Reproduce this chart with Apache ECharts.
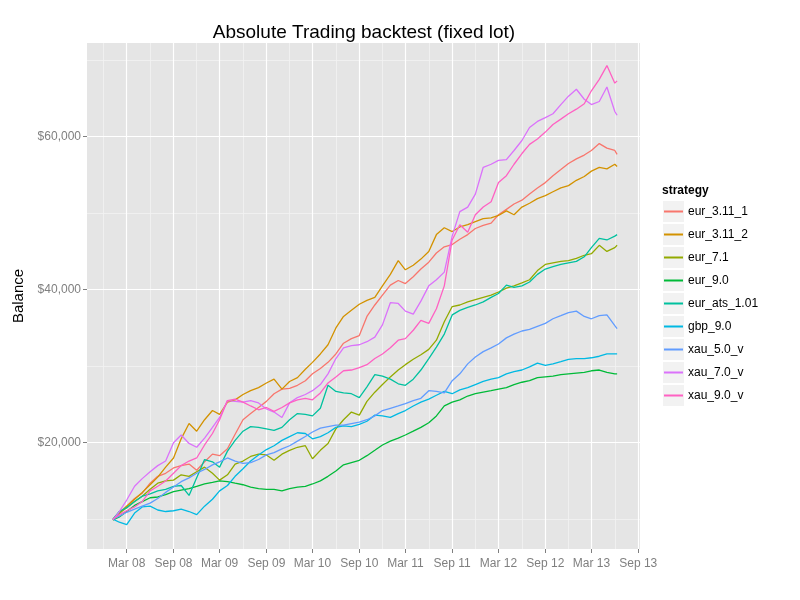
<!DOCTYPE html>
<html>
<head>
<meta charset="utf-8">
<title>Absolute Trading backtest (fixed lot)</title>
<script src="https://cdn.jsdelivr.net/npm/echarts@6/dist/echarts.min.js"></script>
<style>
  html, body { margin: 0; padding: 0; background: #fff; }
  #main { width: 800px; height: 600px; }
</style>
</head>
<body>
<div id="main"></div>
<script>
// monthly samples (first = start of backtest, last = end)
var dates = [
  '2008-01-07','2008-02-01','2008-03-01','2008-04-01','2008-05-01','2008-06-01','2008-07-01','2008-08-01','2008-09-01','2008-10-01','2008-11-01','2008-12-01',
  '2009-01-01','2009-02-01','2009-03-01','2009-04-01','2009-05-01','2009-06-01','2009-07-01','2009-08-01','2009-09-01','2009-10-01','2009-11-01','2009-12-01',
  '2010-01-01','2010-02-01','2010-03-01','2010-04-01','2010-05-01','2010-06-01','2010-07-01','2010-08-01','2010-09-01','2010-10-01','2010-11-01','2010-12-01',
  '2011-01-01','2011-02-01','2011-03-01','2011-04-01','2011-05-01','2011-06-01','2011-07-01','2011-08-01','2011-09-01','2011-10-01','2011-11-01','2011-12-01',
  '2012-01-01','2012-02-01','2012-03-01','2012-04-01','2012-05-01','2012-06-01','2012-07-01','2012-08-01','2012-09-01','2012-10-01','2012-11-01','2012-12-01',
  '2013-01-01','2013-02-01','2013-03-01','2013-04-01','2013-05-01','2013-06-01',
  '2013-06-10'
];

var eur_3_11_1 = [
  10000,10900,11700,12700,13400,14700,15600,16000,16700,17000,17200,16400,
  17500,18500,18300,19200,21100,23000,23800,24600,25400,26400,27000,27100,
  27500,28100,29000,29700,30500,31600,33000,33600,34000,36500,38000,39300,
  40600,41200,40800,41700,42700,43600,44800,45600,45900,46600,47200,48000,
  48400,48700,49800,50500,51200,51700,52500,53300,54000,54900,55700,56500,
  57100,57600,58200,59100,58500,58200,
  57700
];
var eur_3_11_2 = [
  9900,10700,11700,12600,13500,14500,15500,16800,18000,20500,22500,21500,
  23000,24200,23700,25300,25600,26300,26800,27200,27800,28300,27000,28000,
  28500,29600,30500,31600,32800,35000,36500,37300,38100,38600,39000,40500,
  42000,43800,42600,43200,44000,45000,47200,48100,47600,48200,48500,48900,
  49300,49400,49700,50300,49800,50800,51300,51900,52300,52800,53300,53600,
  54300,54800,55500,56000,55800,56400,
  56100
];
var eur_7_1 = [
  9900,10800,11500,12300,13000,13900,14700,15000,15100,15800,15600,16200,
  16800,16000,15100,15800,17200,17600,18200,18500,18400,17700,18500,19000,
  19400,19600,17900,19000,19900,21800,23000,24000,23600,25400,26600,27600,
  28600,29500,30200,30900,31500,32200,33400,35800,37800,38000,38400,38700,
  39000,39300,39700,40200,40500,40900,41300,42500,43300,43500,43700,43800,
  44100,44500,44700,45800,45000,45500,
  45800
];
var eur_9_0 = [
  9900,10300,11000,11800,12300,12800,12900,13200,13600,13800,14000,14300,
  14600,14800,15000,14900,14700,14500,14200,14000,13900,13900,13700,14000,
  14200,14300,14600,15000,15600,16300,17100,17400,17700,18300,19000,19700,
  20200,20600,21000,21500,22000,22600,23500,24800,25300,25600,26100,26400,
  26600,26800,27000,27200,27600,27900,28100,28500,28600,28700,28900,29000,
  29100,29200,29400,29500,29200,29000,
  29000
];
var eur_ats_1_01 = [
  10000,11000,11500,12300,13000,13300,13700,13900,14300,14400,13100,15400,
  17800,17500,16800,18900,20300,21500,22100,22000,21800,21600,22000,23000,
  23800,23700,23500,24500,27500,26700,26500,26400,25900,27300,28900,28700,
  28300,27700,27500,28300,29500,31000,32500,34200,36700,37300,37700,38000,
  38400,39000,39500,40600,40300,40500,41000,42000,42700,43000,43300,43500,
  43700,44300,45500,46700,46500,47000,
  47200
];
var gbp_9_0 = [
  10000,9600,9300,10800,11600,11700,11200,11000,11100,11300,11000,10600,
  11700,12600,13700,14400,15600,16600,17600,18400,19100,19600,20300,20800,
  21300,21200,20500,20800,21300,22000,22200,22100,22400,22800,23600,23500,
  23300,23800,24200,24800,25300,25700,26200,26700,26400,26900,27200,27600,
  28000,28300,28500,29000,29300,29500,29900,30400,30100,30300,30600,30900,
  31000,31000,31100,31300,31600,31600,
  31600
];
var xau_5_0_v = [
  10000,10400,10900,11300,11700,12100,12700,13500,14200,14900,15400,16000,
  16500,17100,17500,18000,17600,17300,17400,17800,18400,18700,19200,19600,
  20200,20800,21400,21900,22100,22300,22300,22500,22700,23000,23500,24200,
  24500,24800,25100,25500,25800,26800,26700,26500,28100,29000,30300,31200,
  31900,32400,32900,33700,34200,34600,34800,35200,35600,36200,36600,37000,
  37200,36500,36200,36600,36700,35300,
  34900
];
var xau_7_0_v = [
  9900,11000,12500,14300,15300,16200,17000,17600,20000,21000,19900,19400,
  20600,22000,23300,25500,25400,25300,25500,25200,24400,24000,23300,25200,
  25900,26300,26800,27600,29000,31000,32400,32700,32800,33200,33800,35400,
  38300,38200,37200,36800,38500,40500,41300,42300,47000,50200,50800,52500,
  56000,56400,56900,57000,58200,59500,61200,62000,62500,63000,64200,65300,
  66200,64900,64200,64600,66500,63300,
  62800
];
var xau_9_0_v = [
  10000,10600,11100,11600,12300,13700,14300,15000,16000,17000,17600,18000,
  19700,21200,23000,25500,25700,25300,24800,24300,24600,24100,24600,25200,
  25600,25800,25600,26500,27800,28600,29400,29500,29800,30200,31000,31600,
  32400,33400,33600,34700,36000,35600,37500,40500,46500,48500,47500,49800,
  50800,51500,54000,54900,56400,57800,59000,59700,60600,61600,62300,63000,
  63600,64300,66000,67500,69300,67000,
  67300
];

var strategies = ['eur_3.11_1', 'eur_3.11_2', 'eur_7.1', 'eur_9.0', 'eur_ats_1.01', 'gbp_9.0', 'xau_5.0_v', 'xau_7.0_v', 'xau_9.0_v'];
var values = [eur_3_11_1, eur_3_11_2, eur_7_1, eur_9_0, eur_ats_1_01, gbp_9_0, xau_5_0_v, xau_7_0_v, xau_9_0_v];
var colors = ['#F8766D', '#D39200', '#93AA00', '#00BA38', '#00C19F', '#00B9E3', '#619CFF', '#DB72FB', '#FF61C3'];

var yTicks = [20000, 40000, 60000];
var yMinor = [10000, 30000, 50000, 70000];
var xTicks = ['2008-03-01','2008-09-01','2009-03-01','2009-09-01','2010-03-01','2010-09-01',
              '2011-03-01','2011-09-01','2012-03-01','2012-09-01','2013-03-01','2013-09-01'];
var xMinor = ['2007-12-01','2008-06-01','2008-12-01','2009-06-01','2009-12-01','2010-06-01',
              '2010-12-01','2011-06-01','2011-12-01','2012-06-01','2012-12-01','2013-06-01'];
var monthNames = ['Jan','Feb','Mar','Apr','May','Jun','Jul','Aug','Sep','Oct','Nov','Dec'];

var FONT = "'Liberation Sans', Arial, sans-serif";

function ts(s) {
	var p = s.split('-');
	return new Date(+p[0], +p[1] - 1, +p[2]).getTime();
}

function money(v) {
	return '$' + String(v).replace(/\B(?=(\d{3})+(?!\d))/g, ',');
}

var chart = echarts.init(document.getElementById('main'));

// ggplot style grid: white major lines, pale minor lines
var gridLines = [];
xMinor.forEach(function(d) {
	gridLines.push({ xAxis: ts(d), lineStyle: { color: '#F2F2F2', width: 0.8, type: 'solid' } });
});
yMinor.forEach(function(v) {
	gridLines.push({ yAxis: v, lineStyle: { color: '#F2F2F2', width: 0.8, type: 'solid' } });
});
xTicks.forEach(function(d) {
	gridLines.push({ xAxis: ts(d), lineStyle: { color: '#FFFFFF', width: 1.2, type: 'solid' } });
});
yTicks.forEach(function(v) {
	gridLines.push({ yAxis: v, lineStyle: { color: '#FFFFFF', width: 1.2, type: 'solid' } });
});

var series = [{
	name: '_grid',
	type: 'line',
	data: [],
	silent: true,
	markLine: {
		silent: true,
		z: 1,
		symbol: 'none',
		animation: false,
		label: { show: false },
		emphasis: { disabled: true },
		data: gridLines
	}
}];

strategies.forEach(function(name, k) {
	series.push({
		name: name,
		type: 'line',
		z: 3,
		showSymbol: false,
		symbol: 'none',
		color: colors[k],
		lineStyle: { width: 1.3, color: colors[k] },
		emphasis: { disabled: true },
		data: dates.map(function(d, i) { return [ts(d), values[k][i]]; })
	});
});

// grey legend key boxes
var keys = strategies.map(function(name, i) {
	return {
		type: 'rect',
		left: 663,
		top: 201 + i * 23,
		z: 0,
		shape: { width: 21, height: 21 },
		style: { fill: '#F2F2F2' }
	};
});
keys.push({
	type: 'text',
	left: 662,
	top: 185,
	style: { text: 'strategy', fill: '#000', font: 'bold 12px ' + FONT }
});

var option = {
	animation: false,
	backgroundColor: '#FFFFFF',
	textStyle: { fontFamily: FONT },
	title: {
		text: 'Absolute Trading backtest (fixed lot)',
		left: 364,
		top: 23,
		padding: 0,
		textAlign: 'center',
		textStyle: { fontSize: 19, fontWeight: 'normal', color: '#000', fontFamily: FONT }
	},
	grid: {
		left: 87,
		top: 43,
		width: 553,
		height: 506,
		show: true,
		backgroundColor: '#E5E5E5',
		borderWidth: 0
	},
	legend: {
		orient: 'vertical',
		left: 664,
		top: 201,
		padding: 0,
		itemWidth: 19,
		itemHeight: 2,
		itemGap: 2,
		icon: 'rect',
		selectedMode: false,
		data: strategies,
		textStyle: { fontSize: 12, color: '#000', lineHeight: 21, fontFamily: FONT }
	},
	graphic: keys,
	xAxis: {
		type: 'value',
		min: ts('2007-09-27'),
		max: ts('2013-09-08'),
		axisLine: { show: false },
		splitLine: { show: false },
		axisTick: {
			show: true,
			length: 4,
			customValues: xTicks.map(ts),
			lineStyle: { color: '#7F7F7F' }
		},
		axisLabel: {
			customValues: xTicks.map(ts),
			color: '#7F7F7F',
			fontSize: 12,
			margin: 9,
			fontFamily: FONT,
			formatter: function(v) {
				var d = new Date(v);
				return monthNames[d.getMonth()] + ' ' + String(d.getFullYear()).slice(2);
			}
		}
	},
	yAxis: {
		type: 'value',
		min: 6100,
		max: 72250,
		name: 'Balance',
		nameLocation: 'middle',
		nameRotate: 90,
		nameGap: 59,
		nameTextStyle: { fontSize: 15, color: '#000', fontFamily: FONT },
		axisLine: { show: false },
		splitLine: { show: false },
		axisTick: {
			show: true,
			length: 4,
			customValues: yTicks,
			lineStyle: { color: '#7F7F7F' }
		},
		axisLabel: {
			customValues: yTicks,
			color: '#7F7F7F',
			fontSize: 12,
			margin: 6,
			fontFamily: FONT,
			formatter: function(v) { return money(v); }
		}
	},
	series: series
};

chart.setOption(option);
</script>
</body>
</html>
